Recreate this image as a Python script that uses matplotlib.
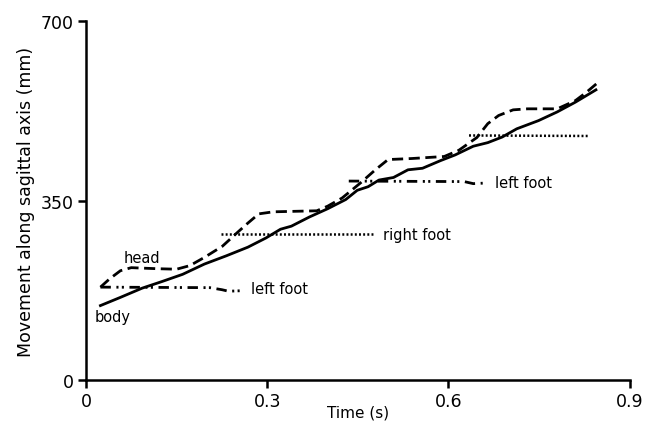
import numpy as np
import matplotlib
matplotlib.use('Agg')
import matplotlib.pyplot as plt

plt.rcParams['font.family'] = ['DejaVu Sans']
plt.rcParams['lines.scale_dashes'] = False

# body (solid)
body_t = [0.024, 0.057, 0.093, 0.126, 0.160, 0.196, 0.232, 0.268, 0.298, 0.322, 0.340,
          0.370, 0.400, 0.430, 0.449, 0.467, 0.485, 0.509, 0.533, 0.557, 0.587, 0.611,
          0.641, 0.665, 0.689, 0.713, 0.749, 0.780, 0.810, 0.844]
body_y = [145, 161, 179, 192, 206, 226, 242, 259, 277, 294, 300,
          318, 334, 352, 370, 377, 390, 395, 410, 413, 428, 439,
          456, 463, 474, 490, 506, 523, 542, 566]

# head (dashed)
head_t = [0.024, 0.039, 0.057, 0.075, 0.117, 0.150, 0.172, 0.196, 0.226, 0.250, 0.268,
          0.286, 0.310, 0.382, 0.400, 0.424, 0.454, 0.479, 0.500, 0.539, 0.593, 0.617,
          0.647, 0.665, 0.683, 0.707, 0.731, 0.780, 0.810, 0.828, 0.849]
head_y = [181, 197, 213, 219, 217, 216, 223, 239, 261, 287, 306,
          324, 328, 330, 339, 355, 384, 410, 430, 432, 436, 448,
          473, 500, 516, 527, 529, 529, 545, 561, 582]

# left foot, first and second stance (dash-dot-dot)
lfoot1_t = [0.024, 0.205, 0.225, 0.236, 0.257]
lfoot1_y = [181, 180, 176, 173, 174]
lfoot2_t = [0.435, 0.626, 0.641, 0.659]
lfoot2_y = [388, 387, 383, 384]

# right foot (dotted)
rfoot1_t = [0.223, 0.476]
rfoot1_y = [284, 284]
rfoot2_t = [0.634, 0.831]
rfoot2_y = [477, 476]

fig = plt.figure(figsize=(6.56, 4.27), dpi=100)
ax = fig.add_axes([0.131, 0.108, 0.829, 0.840])

dd = (7.5, 4, 1.5, 2.4, 1.5, 4)
ax.plot(body_t, body_y, color='black', lw=2.0, solid_joinstyle='round')
ax.plot(head_t, head_y, color='black', lw=2.0, dashes=(8, 4))
ax.plot(lfoot1_t, lfoot1_y, color='black', lw=2.0, dashes=dd)
ax.plot(lfoot2_t, lfoot2_y, color='black', lw=2.0, dashes=dd)
ax.plot(rfoot1_t, rfoot1_y, color='black', lw=1.8, dashes=(1.4, 1.6))
ax.plot(rfoot2_t, rfoot2_y, color='black', lw=1.8, dashes=(1.4, 1.6))

fs = 10.5
ax.text(0.063, 239, 'head', fontsize=fs, va='center')
ax.text(0.015, 124, 'body', fontsize=fs, va='center')
ax.text(0.273, 179, 'left foot', fontsize=fs, va='center')
ax.text(0.491, 284, 'right foot', fontsize=fs, va='center')
ax.text(0.677, 386, 'left foot', fontsize=fs, va='center')

ax.set_xlim(0, 0.9)
ax.set_ylim(0, 700)
ax.set_xticks([0, 0.3, 0.6, 0.9])
ax.set_xticklabels(['0', '0.3', '0.6', '0.9'])
ax.set_yticks([0, 350, 700])
ax.spines['top'].set_visible(False)
ax.spines['right'].set_visible(False)
for s in ['left', 'bottom']:
    ax.spines[s].set_linewidth(1.8)
ax.tick_params(direction='out', length=6, width=1.8, labelsize=12.5, pad=3)
ax.set_xlabel('Time (s)', fontsize=11, labelpad=-4)
ax.set_ylabel('Movement along sagittal axis (mm)', fontsize=12.5, labelpad=4)

fig.savefig('out.png', dpi=100)
